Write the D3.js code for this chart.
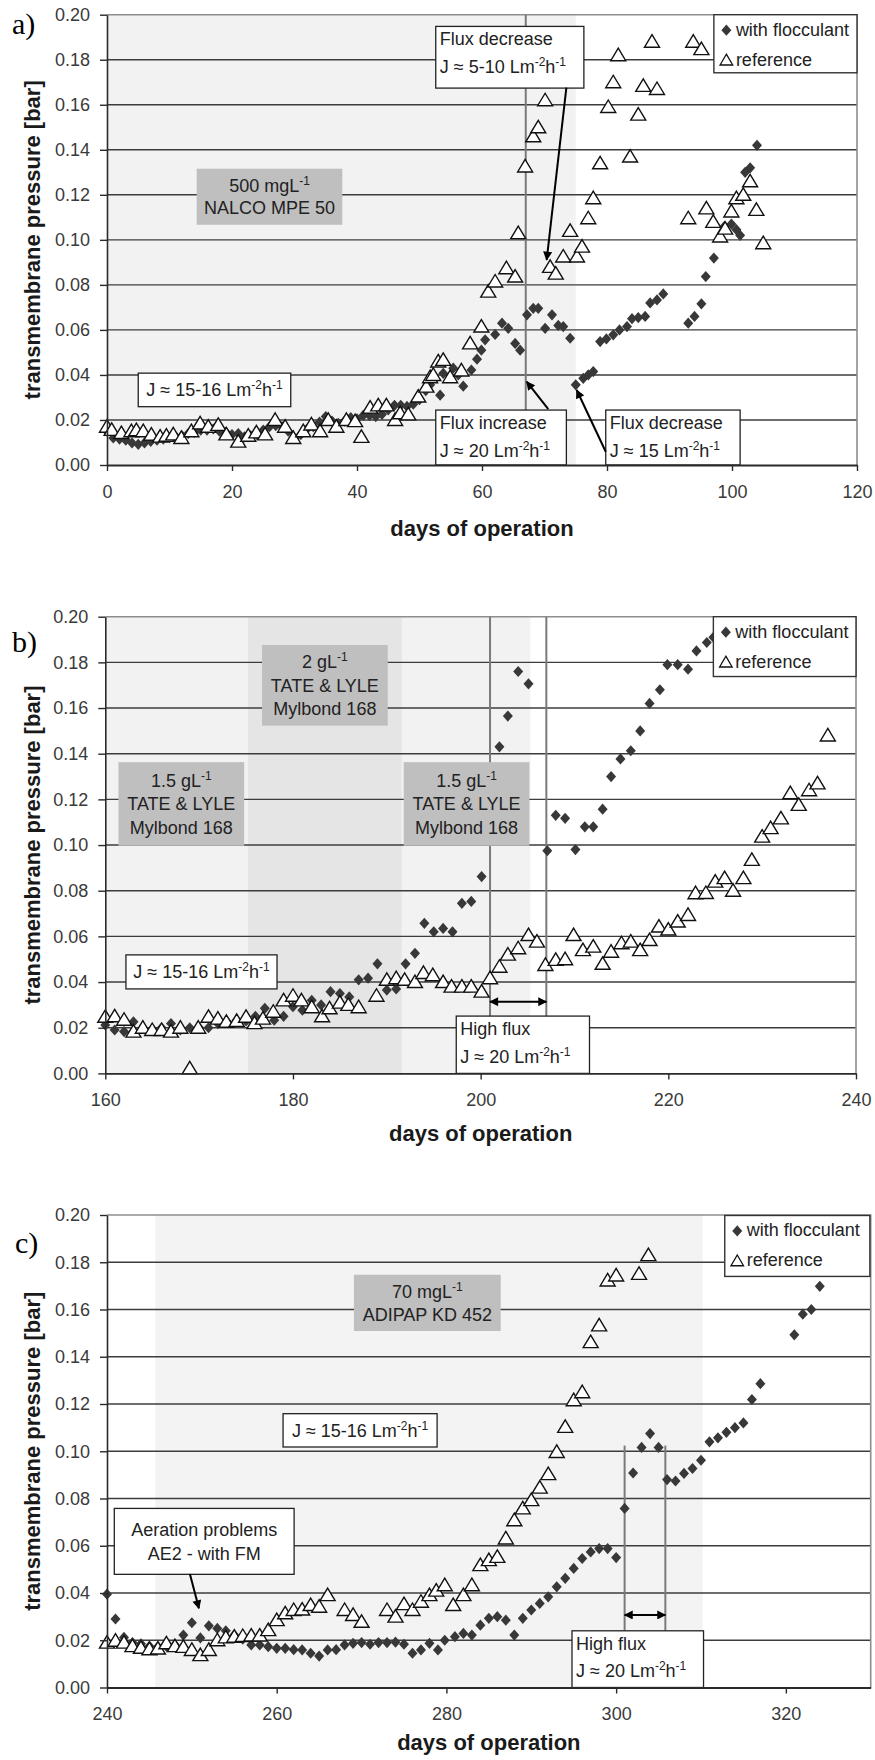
<!DOCTYPE html>
<html>
<head>
<meta charset="utf-8">
<script src="https://cdn.jsdelivr.net/npm/d3@7"></script>
<style>
  body { margin: 0; background: #fff; }
  svg { display: block; }
</style>
</head>
<body>
<svg id="fig" width="875" height="1760"></svg>
<script>
// ---------- values ----------
const yTicks = [0, 0.02, 0.04, 0.06, 0.08, 0.10, 0.12, 0.14, 0.16, 0.18, 0.20];
const xTicksA = [0, 20, 40, 60, 80, 100, 120];
const xTicksB = [160, 180, 200, 220, 240];
const xTicksC = [240, 260, 280, 300, 320];

const seriesNames = ["with flocculant", "reference"];

// [day, TMP in bar]
const flocA = [[0,0.015],[1,0.012],[2,0.0115],[3,0.011],[4,0.0098],[5,0.0092],[6,0.0098],[7,0.0105],[8,0.011],[9,0.0115],[10,0.012],[11,0.0125],[12,0.013],[13,0.014],[14,0.0145],[15,0.0155],[16,0.0155],[17,0.016],[18,0.015],[19,0.0145],[20,0.0135],[21,0.014],[22,0.0125],[23,0.013],[24,0.0135],[25,0.0155],[26,0.017],[27,0.0175],[28,0.017],[29,0.015],[30,0.0118],[31,0.0135],[32,0.016],[33,0.017],[34,0.019],[35,0.0215],[36,0.0195],[37,0.0185],[38,0.0195],[39,0.021],[40,0.0205],[41,0.022],[42,0.022],[43,0.0215],[44,0.0225],[45,0.0245],[46,0.0265],[47,0.0265],[48,0.026],[49,0.027],[50,0.029],[51,0.033],[51.7,0.0356],[53.3,0.031],[53.8,0.0407],[55.4,0.043],[56.2,0.040],[57,0.035],[58.3,0.0422],[59.2,0.047],[59.9,0.051],[60.5,0.0556],[62.1,0.058],[63.2,0.063],[64.2,0.0607],[65.3,0.054],[66.1,0.051],[67.2,0.0667],[68.2,0.0696],[69,0.0696],[70.1,0.0607],[71.2,0.0667],[72.2,0.062],[73,0.0615],[74.1,0.0563],[75,0.0356],[76.2,0.0385],[77,0.040],[77.8,0.0415],[78.9,0.0548],[79.9,0.056],[81,0.0578],[82,0.060],[83.2,0.0615],[84,0.065],[85,0.0655],[86.1,0.066],[86.9,0.072],[88,0.0733],[89,0.076],[93,0.063],[94,0.066],[95.1,0.0716],[95.8,0.0837],[97.1,0.0919],[98.8,0.106],[99.9,0.107],[100.7,0.1045],[101.3,0.102],[102.1,0.130],[102.9,0.132],[104,0.142]];

const refA = [[0,0.017],[0.75,0.0156],[2.3,0.0142],[3.9,0.015],[4.7,0.0155],[5.8,0.015],[7.1,0.0135],[8.5,0.0126],[9.5,0.013],[10.6,0.0136],[11.9,0.012],[13.5,0.015],[14.9,0.0185],[16.2,0.017],[17.8,0.0178],[19.1,0.0136],[21,0.0104],[22.6,0.013],[23.9,0.0145],[25.3,0.0136],[26.9,0.020],[28.5,0.017],[29.8,0.012],[31.4,0.015],[32.7,0.018],[34.1,0.015],[35.4,0.020],[36.7,0.017],[38.3,0.020],[39.7,0.0195],[40.7,0.0125],[42.1,0.0255],[43.4,0.0265],[44.7,0.0265],[46.1,0.020],[46.9,0.023],[48.2,0.0225],[49.8,0.0304],[51.1,0.0348],[51.7,0.039],[52.2,0.040],[53,0.046],[53.8,0.0467],[54.9,0.039],[56.7,0.042],[58.1,0.054],[59.9,0.0615],[61,0.077],[62.1,0.0815],[63.9,0.0874],[65.3,0.0837],[65.8,0.103],[66.9,0.1326],[68.2,0.146],[69,0.150],[70.1,0.162],[70.9,0.088],[71.8,0.085],[73,0.0926],[74.1,0.104],[75.2,0.0926],[76,0.097],[77,0.1096],[77.8,0.1185],[78.9,0.134],[80.2,0.159],[81,0.170],[81.8,0.182],[83.7,0.137],[85,0.1556],[85.8,0.1684],[87.2,0.188],[88,0.167],[93,0.1096],[93.8,0.188],[95.1,0.1847],[95.9,0.114],[97,0.108],[98.1,0.1015],[98.9,0.105],[99.9,0.1126],[100.7,0.1185],[101.8,0.120],[102.9,0.126],[103.9,0.1133],[105,0.0985]];

const flocB = [[160,0.0212],[161,0.019],[162,0.0183],[163,0.0226],[164,0.020],[165,0.0195],[166,0.020],[167,0.0218],[168,0.019],[169,0.020],[170,0.020],[171,0.020],[172,0.0218],[173,0.0225],[174,0.0233],[175,0.023],[176,0.025],[177,0.0285],[178,0.0233],[179,0.025],[180,0.0292],[181,0.0277],[182,0.032],[183,0.030],[184,0.0358],[185,0.035],[186,0.0335],[187,0.041],[188,0.0417],[189,0.048],[190,0.0365],[191,0.037],[192,0.048],[193,0.0526],[194,0.0657],[195,0.062],[196,0.0635],[197,0.062],[198,0.0745],[199,0.0753],[200.1,0.0862],[202,0.143],[202.9,0.1565],[204,0.176],[205.1,0.1706],[207.1,0.0975],[208,0.113],[209,0.1117],[210.1,0.098],[211.1,0.108],[212,0.108],[213,0.1157],[213.9,0.130],[214.9,0.1377],[216,0.1413],[217,0.150],[218,0.162],[219.1,0.168],[219.9,0.179],[221,0.179],[222.1,0.177],[223,0.185],[224.1,0.1887],[224.8,0.191]];

const refB = [[160,0.0248],[161,0.025],[162,0.0235],[163,0.0183],[164,0.020],[165,0.019],[166,0.019],[167,0.0183],[168,0.020],[169,0.0022],[169.9,0.020],[171,0.0248],[172,0.024],[172.9,0.0226],[174,0.023],[175,0.0248],[175.9,0.022],[176.8,0.024],[177.9,0.027],[179,0.032],[180,0.034],[180.9,0.032],[182,0.029],[183.1,0.025],[183.9,0.0285],[185,0.031],[185.9,0.030],[187,0.029],[188.9,0.034],[190,0.041],[191,0.0417],[191.9,0.041],[193,0.040],[193.9,0.044],[194.9,0.043],[196,0.040],[196.9,0.038],[198,0.038],[199,0.038],[200.1,0.0358],[201,0.0417],[202,0.0467],[202.9,0.052],[204,0.0548],[205.1,0.0606],[206,0.0577],[206.9,0.0475],[208,0.0497],[209,0.050],[209.9,0.0606],[210.9,0.054],[212,0.0555],[213,0.048],[213.9,0.0533],[215,0.057],[216,0.0577],[217,0.054],[218,0.0584],[219,0.0643],[220,0.063],[221,0.0665],[222.1,0.0694],[222.9,0.0789],[224,0.079],[225,0.084],[226,0.0855],[226.9,0.080],[228,0.0855],[228.9,0.0935],[230,0.1037],[230.9,0.1074],[232,0.1117],[233,0.1227],[233.9,0.1176],[235,0.124],[235.9,0.127],[237,0.148]];

const flocC = [[240,0.0395],[241,0.029],[242,0.0212],[243,0.019],[244,0.0185],[245,0.0175],[246,0.0173],[247,0.0175],[248,0.018],[249,0.0222],[250,0.0274],[251,0.021],[252,0.0261],[253,0.025],[254,0.024],[255,0.0222],[256,0.0205],[257,0.018],[258,0.018],[259,0.0173],[260,0.0166],[261,0.0166],[262,0.016],[263,0.0159],[264,0.0145],[265,0.0133],[266,0.0159],[267,0.016],[268,0.018],[269,0.0187],[270,0.019],[271,0.0183],[272,0.019],[273,0.019],[274,0.0192],[275,0.0183],[276,0.0145],[277,0.0159],[278,0.0187],[279,0.0159],[279.8,0.020],[281,0.0215],[282,0.0229],[283,0.0222],[284,0.0264],[285,0.0293],[286,0.030],[287,0.0285],[288,0.0222],[289,0.0293],[290,0.0328],[291,0.0356],[292,0.0384],[293,0.0426],[294,0.0462],[295,0.0504],[296,0.0546],[297,0.0574],[298,0.0588],[299,0.0588],[300,0.055],[301,0.0758],[302,0.0908],[303,0.1016],[304,0.1075],[305,0.1016],[306,0.088],[307,0.0874],[308,0.0906],[309,0.0927],[310,0.0962],[311,0.104],[312,0.1057],[313,0.108],[314,0.110],[315,0.112],[316,0.1219],[317,0.1286],[321,0.1493],[322,0.158],[323,0.160],[324,0.1698]];

const refC = [[240,0.019],[241,0.0198],[242,0.019],[243,0.0175],[244,0.0168],[245,0.0162],[246,0.0165],[247,0.0187],[248,0.0175],[249,0.0172],[250,0.0159],[251,0.0137],[252,0.0159],[253,0.020],[254,0.0212],[255,0.0215],[256,0.0218],[257,0.022],[258,0.022],[259,0.0243],[260,0.0285],[261,0.0314],[262,0.0328],[263,0.033],[264,0.0349],[265,0.0342],[266,0.0391],[268,0.0328],[269,0.0307],[270,0.0278],[273,0.0328],[274,0.030],[275,0.0353],[276,0.0328],[277,0.0363],[278,0.0391],[278.8,0.041],[279.8,0.0433],[280.8,0.0349],[282,0.0391],[283,0.0433],[284,0.0518],[285,0.0539],[286,0.0553],[287,0.0631],[288,0.0708],[289,0.0758],[290,0.0793],[291,0.0846],[292,0.0903],[293,0.0997],[294,0.1103],[295,0.1216],[296,0.125],[297,0.1462],[298,0.1533],[299,0.1723],[300,0.1744],[302.7,0.1751],[303.8,0.183]];

// ---------- page layout ----------
const SANS = '"Liberation Sans", Arial, Helvetica, sans-serif';
const SERIF = '"Liberation Serif", "Times New Roman", serif';
const GRID = "#3c3c3c";

const panels = [
  {
    label: "a)", labelX: 12, labelY: 33.5,
    frame: { l: 107, r: 857, t: 14.7, b: 465 },
    xDomain: [0, 120], xTicks: xTicksA, floc: flocA, ref: refA, titleGap: 71,
    bands: [{ from: 0, to: 75, fill: "#f2f2f2" }],
    vlines: [{ at: 67, lo: 0, hi: 0.2 }],
    notes: [
      { kind: "grey", x0: 14.35, x1: 37.65, y0: 0.1067, y1: 0.1316, lh: 22, lines: ["500 mgL^-1", "NALCO MPE 50"] },
      { kind: "box", x0: 5, x1: 29.4, y0: 0.0259, y1: 0.0408, lines: ["J ≈ 15-16 Lm^-2h^-1"] },
      { kind: "box", align: "left", x0: 52.6, x1: 76.3, y0: 0.1674, y1: 0.1948, lines: ["Flux decrease", "J ≈ 5-10 Lm^-2h^-1"] },
      { kind: "box", align: "left", x0: 52.6, x1: 73.5, y0: 0, y1: 0.0244, lines: ["Flux increase", "J ≈ 20 Lm^-2h^-1"] },
      { kind: "box", align: "left", x0: 79.8, x1: 101.3, y0: 0, y1: 0.0244, lines: ["Flux decrease", "J ≈ 15 Lm^-2h^-1"] }
    ],
    arrows: [
      { from: [73.5, 0.1676], to: [70.35, 0.0911] },
      { from: [70.6, 0.0248], to: [67.15, 0.037] },
      { from: [79.8, 0.0059], to: [75.15, 0.0333] }
    ],
    legend: { x0: 97.1, x1: 120, y0: 0.1742, y1: 0.2 }
  },
  {
    label: "b)", labelX: 12, labelY: 651.5,
    frame: { l: 105.3, r: 856, t: 616.7, b: 1073.4 },
    xDomain: [160, 240], xTicks: xTicksB, floc: flocB, ref: refB, titleGap: 68,
    bands: [
      { from: 160, to: 175.2, fill: "#f2f2f2" },
      { from: 175.2, to: 191.6, fill: "#e5e5e5" },
      { from: 191.6, to: 205.3, fill: "#f2f2f2" }
    ],
    vlines: [{ at: 201, lo: 0, hi: 0.2 }, { at: 207, lo: 0, hi: 0.2 }],
    notes: [
      { kind: "grey", x0: 161.4, x1: 174.8, y0: 0.0997, y1: 0.1363, lh: 23.5, lines: ["1.5 gL^-1", "TATE & LYLE", "Mylbond 168"] },
      { kind: "grey", x0: 176.7, x1: 190.1, y0: 0.1523, y1: 0.1876, lh: 23.5, lines: ["2 gL^-1", "TATE & LYLE", "Mylbond 168"] },
      { kind: "grey", x0: 191.8, x1: 205.2, y0: 0.0997, y1: 0.1363, lh: 23.5, lines: ["1.5 gL^-1", "TATE & LYLE", "Mylbond 168"] },
      { kind: "box", x0: 162.2, x1: 178.3, y0: 0.037, y1: 0.0519, lines: ["J ≈ 15-16 Lm^-2h^-1"] },
      { kind: "box", align: "left", x0: 197.4, x1: 211.6, y0: 0, y1: 0.0251, lines: ["High flux", "J ≈ 20 Lm^-2h^-1"] }
    ],
    arrows: [{ from: [201, 0.0314], to: [207, 0.0314], both: true }],
    legend: { x0: 224.8, x1: 240, y0: 0.1738, y1: 0.2 }
  },
  {
    label: "c)", labelX: 15, labelY: 1253,
    frame: { l: 107, r: 870.7, t: 1215, b: 1687.5 },
    xDomain: [240, 330], xTicks: xTicksC, floc: flocC, ref: refC, titleGap: 62.5,
    bands: [{ from: 245.7, to: 310.2, fill: "#f3f3f3" }],
    vlines: [{ at: 301, lo: 0, hi: 0.1024 }, { at: 305.8, lo: 0, hi: 0.1024 }],
    notes: [
      { kind: "grey", x0: 269.1, x1: 286.4, y0: 0.1509, y1: 0.1747, lh: 23, lines: ["70 mgL^-1", "ADIPAP KD 452"] },
      { kind: "box", x0: 260.75, x1: 278.9, y0: 0.1018, y1: 0.1159, lines: ["J ≈ 15-16 Lm^-2h^-1"] },
      { kind: "box", x0: 240.86, x1: 262.05, y0: 0.0479, y1: 0.0758, lh: 24, lines: ["Aeration problems", "AE2 - with FM"] },
      { kind: "box", align: "left", x0: 294.8, x1: 310.3, y0: 0, y1: 0.024, lines: ["High flux", "J ≈ 20 Lm^-2h^-1"] }
    ],
    arrows: [
      { from: [249.77, 0.048], to: [250.83, 0.0335] },
      { from: [301, 0.0307], to: [305.8, 0.0307], both: true }
    ],
    legend: { x0: 312.8, x1: 329.9, y0: 0.174, y1: 0.1998 }
  }
];

// ---------- drawing ----------
const svg = d3.select("#fig");
svg.append("rect").attr("width", 875).attr("height", 1760).attr("fill", "#fff");

const defs = svg.append("defs");
defs.append("marker")
  .attr("id", "head").attr("viewBox", "0 0 10 10")
  .attr("refX", 9).attr("refY", 5)
  .attr("markerWidth", 10).attr("markerHeight", 9)
  .attr("markerUnits", "userSpaceOnUse")
  .attr("orient", "auto-start-reverse")
  .append("path").attr("d", "M0,0L10,5L0,10z").attr("fill", "#000");

const diamondPath = "M0,-5.6L5,0L0,5.6L-5,0Z";
const trianglePath = "M0,-7L7.5,5.5L-7.5,5.5Z";
const legendTriangle = "M0,-6L6.3,4.8L-6.3,4.8Z";

// text with ^-n superscripts
function rich(textSel, str) {
  const parts = str.split(/(\^-?\d+)/).filter(s => s.length);
  let shift = 0;
  parts.forEach(p => {
    const sup = p[0] === "^";
    const t = textSel.append("tspan").text(sup ? p.slice(1) : p);
    const target = sup ? -7 : 0;
    if (target !== shift) { t.attr("dy", target - shift); shift = target; }
    if (sup) t.attr("font-size", 12);
  });
}

function drawPanel(p) {
  const f = p.frame;
  const g = svg.append("g");
  const x = d3.scaleLinear().domain(p.xDomain).range([f.l, f.r]);
  const y = d3.scaleLinear().domain([0, 0.2]).range([f.b, f.t]);

  // shaded periods
  g.selectAll(null).data(p.bands).join("rect")
    .attr("x", d => x(d.from)).attr("width", d => x(d.to) - x(d.from))
    .attr("y", f.t).attr("height", f.b - f.t).attr("fill", d => d.fill);

  // horizontal gridlines
  g.selectAll(null).data(yTicks.filter(v => v > 0.001 && v < 0.199)).join("line")
    .attr("x1", f.l).attr("x2", f.r)
    .attr("y1", d => y(d)).attr("y2", d => y(d))
    .attr("stroke", GRID).attr("stroke-width", 1.4);

  // plot frame (top, right)
  g.append("path")
    .attr("d", `M${f.l},${f.t}H${f.r}V${f.b}`)
    .attr("fill", "none").attr("stroke", "#8e8e8e").attr("stroke-width", 1.6);

  // vertical event lines
  g.selectAll(null).data(p.vlines).join("line")
    .attr("x1", d => x(d.at)).attr("x2", d => x(d.at))
    .attr("y1", d => y(d.hi)).attr("y2", d => y(d.lo))
    .attr("stroke", "#7a7a7a").attr("stroke-width", 2);

  // series
  g.append("g").selectAll("path").data(p.floc).join("path")
    .attr("transform", d => `translate(${x(d[0])},${y(d[1])})`)
    .attr("d", diamondPath).attr("fill", "#383838");
  g.append("g").selectAll("path").data(p.ref).join("path")
    .attr("transform", d => `translate(${x(d[0])},${y(d[1])})`)
    .attr("d", trianglePath).attr("fill", "#fff")
    .attr("stroke", "#111").attr("stroke-width", 1.4);

  // annotation boxes
  p.notes.forEach(n => {
    const L = x(n.x0), R = x(n.x1), T = y(n.y1), B = y(n.y0);
    const grey = n.kind === "grey";
    g.append("rect").attr("x", L).attr("y", T).attr("width", R - L).attr("height", B - T)
      .attr("fill", grey ? "#bfbfbf" : "#fff")
      .attr("stroke", grey ? "none" : "#222").attr("stroke-width", 1.3);
    const k = n.lines.length, lh = n.lh || 23;
    n.lines.forEach((s, i) => {
      const t = g.append("text")
        .attr("font-family", SANS).attr("font-size", 18).attr("fill", "#222");
      if (n.align === "left") {
        t.attr("x", L + 4).attr("y", T + 19 + i * 27.5).attr("text-anchor", "start");
      } else {
        t.attr("x", (L + R) / 2).attr("y", (T + B) / 2 + (i - (k - 1) / 2) * lh + 6.5)
          .attr("text-anchor", "middle");
      }
      rich(t, s);
    });
  });

  // arrows
  p.arrows.forEach(a => {
    const ln = g.append("line")
      .attr("x1", x(a.from[0])).attr("y1", y(a.from[1]))
      .attr("x2", x(a.to[0])).attr("y2", y(a.to[1]))
      .attr("stroke", "#000").attr("stroke-width", 2)
      .attr("marker-end", "url(#head)");
    if (a.both) ln.attr("marker-start", "url(#head)");
  });

  // legend
  const lg = p.legend;
  const LL = x(lg.x0), LR = x(lg.x1), LT = y(lg.y1), LB = y(lg.y0);
  g.append("rect").attr("x", LL).attr("y", LT).attr("width", LR - LL).attr("height", LB - LT)
    .attr("fill", "#fff").attr("stroke", "#333").attr("stroke-width", 1.4);
  seriesNames.forEach((name, i) => {
    const by = LT + 21 + i * 30;
    g.append("path").attr("transform", `translate(${LL + 12.5},${by - 5.5})`)
      .attr("d", i === 0 ? diamondPath : legendTriangle)
      .attr("fill", i === 0 ? "#383838" : "#fff")
      .attr("stroke", i === 0 ? "none" : "#111").attr("stroke-width", 1.3);
    g.append("text").attr("x", LL + 22).attr("y", by)
      .attr("font-family", SANS).attr("font-size", 18).attr("fill", "#222").text(name);
  });

  // axes
  const yAxis = g.append("g").attr("transform", `translate(${f.l},0)`)
    .call(d3.axisLeft(y).tickValues(yTicks).tickFormat(d3.format(".2f"))
      .tickSize(7).tickSizeOuter(0).tickPadding(10));
  const xAxis = g.append("g").attr("transform", `translate(0,${f.b})`)
    .call(d3.axisBottom(x).tickValues(p.xTicks).tickFormat(d3.format("d"))
      .tickSize(6).tickSizeOuter(0).tickPadding(14));
  [yAxis, xAxis].forEach(ax => {
    ax.select(".domain").attr("stroke", "#2a2a2a").attr("stroke-width", 1.6);
    ax.selectAll(".tick line").attr("stroke", "#2a2a2a").attr("stroke-width", 1.4);
    ax.selectAll(".tick text").attr("font-family", SANS).attr("font-size", 18).attr("fill", "#3a3a3a");
  });
  xAxis.select(".domain").attr("stroke-width", 1.8);

  // axis titles
  g.append("text")
    .attr("x", (f.l + f.r) / 2).attr("y", f.b + p.titleGap)
    .attr("text-anchor", "middle").attr("font-family", SANS)
    .attr("font-size", 22).attr("font-weight", "bold").attr("fill", "#1a1a1a")
    .text("days of operation");
  g.append("text")
    .attr("transform", `translate(40,${(f.t + f.b) / 2}) rotate(-90)`)
    .attr("text-anchor", "middle").attr("font-family", SANS)
    .attr("font-size", 22).attr("font-weight", "bold").attr("fill", "#1a1a1a")
    .text("transmembrane pressure [bar]");

  // panel letter
  g.append("text").attr("x", p.labelX).attr("y", p.labelY)
    .attr("font-family", SERIF).attr("font-size", 30).attr("fill", "#000")
    .text(p.label);
}

panels.forEach(drawPanel);
</script>
</body>
</html>
